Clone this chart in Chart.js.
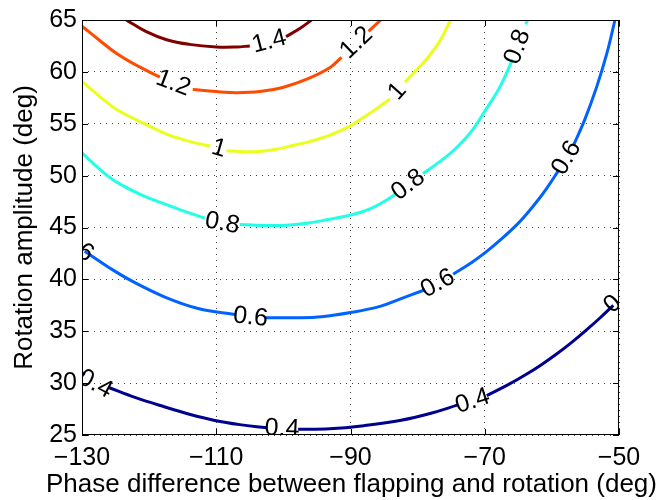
<!DOCTYPE html>
<html>
<head>
<meta charset="utf-8">
<script src="https://cdn.jsdelivr.net/npm/chart.js@4.4.1/dist/chart.umd.min.js"></script>
<style>
  html, body { margin: 0; padding: 0; background: #fff; }
  #wrap { width: 665px; height: 500px; }
</style>
</head>
<body>
<div id="wrap"><canvas id="grafico" width="665" height="500"></canvas></div>
<script>
// valores (null = abertura para o rotulo)
var levels = [0.4, 0.6, 0.8, 1.0, 1.2, 1.4];
var xTicks = [-130, -110, -90, -70, -50];
var yTicks = [25, 30, 35, 40, 45, 50, 55, 60, 65];
var tituloX = 'Phase difference between flapping and rotation (deg)';
var tituloY = 'Rotation amplitude (deg)';

var fase04 = [-130, -129.6, null, -126.1, -122, -117.65, -114, -110.2, -106.5, -102.5, null, -97.8, -93.1, -88, -82.65, -78, -74.0, null, -69.7, -66.5, -63.8, -61.5, -59.3, -57, -54.8, -52.8, -50.85];
var amp04  = [31.0, 30.8, null, 29.6, 28.6, 27.7, 27.0, 26.4, 26.0, 25.7, null, 25.55, 25.6, 25.9, 26.4, 27.1, 27.9, null, 28.8, 29.85, 30.85, 31.8, 32.8, 33.95, 35.15, 36.3, 37.5];

var fase06 = [-129.6, -126, -122.6, -117.65, -112.7, -107.0, null, -102.7, -98, -94.3, -90, -85.6, -82.65, -78.9, null, -74.7, -72, -69.7, -67.5, -65.25, -63.5, -62.0, -60.8, -59.05, null, -56.8, -55.1, -53.3, -51.8, -50.6];
var amp06  = [42.7, 41.15, 39.85, 38.3, 37.2, 36.6, null, 36.3, 36.3, 36.4, 36.8, 37.4, 38.1, 39.0, null, 40.5, 41.6, 42.7, 43.9, 45.25, 46.5, 47.7, 48.75, 50.45, null, 52.9, 55.4, 58.6, 61.8, 65];

var fase08 = [-130, -127.5, -124.9, -121, -117.4, -114.5, -111.7, null, -106.5, -103, -100.1, -96.5, -93.1, -90, -87.1, -84.5, -83.3, null, -79.2, -77, -74.7, -72.2, -70, -67.7, -65.85, null, -63.9, -63.6];
var amp08  = [52.2, 50.7, 49.4, 48.1, 47.2, 46.5, 45.9, null, 45.3, 45.2, 45.2, 45.4, 45.8, 46.2, 46.8, 47.7, 48.2, null, 50.2, 51.2, 52.4, 54.1, 56.2, 58.6, 61.2, null, 64.6, 65];

var fase10 = [-130, -127.5, -124.9, -121, -117.4, -114, -110.9, null, -108.5, -104.5, -101.5, -98.6, -96, -93.1, -90, -88.1, -86, -84.1, null, -81.9, -80, -78.2, -76.5, -75.1];
var amp10  = [59.1, 57.7, 56.4, 55.1, 54.0, 53.3, 52.85, null, 52.4, 52.3, 52.5, 52.9, 53.3, 53.9, 54.8, 55.6, 56.5, 57.4, null, 59.0, 60.3, 61.6, 63.2, 65];

var fase12 = [-130, -127.5, -124.9, -121.5, -118.4, null, -113.5, -110, -107, -103.5, -100.1, -96.5, -93.1, -91.35, null, -87.3, -85.5];
var amp12  = [64.4, 63.1, 61.8, 60.5, 59.5, null, 58.3, 58.1, 58.0, 58.1, 58.5, 59.3, 60.4, 61.4, null, 63.9, 65];

var fase14 = [-123.4, -120.5, -117.4, -114, -110, -107, -105, null, -99.6, -97.5, -95.8];
var amp14  = [65, 63.9, 63.1, 62.65, 62.4, 62.4, 62.5, null, 63.4, 64.2, 65];

// posicao dos rotulos das curvas
var rotFase04 = [-128.0, -100.2, -71.8, -49.8];
var rotAmp04  = [29.9, 25.6, 28.25, 38.3];
var rotFase06 = [-130.8, -104.9, -77.0, -57.8];
var rotAmp06  = [43.1, 36.35, 39.6, 51.7];
var rotFase08 = [-109.1, -81.4, -65.1];
var rotAmp08  = [45.4, 49.1, 62.4];
var rotFase10 = [-109.6, -83.0];
var rotAmp10  = [52.6, 58.1];
var rotFase12 = [-116.4, -89.1];
var rotAmp12  = [58.9, 62.8];
var rotFase14 = [-102.1];
var rotAmp14  = [62.9];

var fases = [fase04, fase06, fase08, fase10, fase12, fase14];
var amps = [amp04, amp06, amp08, amp10, amp12, amp14];
var rotFases = [rotFase04, rotFase06, rotFase08, rotFase10, rotFase12, rotFase14];
var rotAmps = [rotAmp04, rotAmp06, rotAmp08, rotAmp10, rotAmp12, rotAmp14];
var cores = ['#00008f', '#0062ff', '#22ffe6', '#eaff1c', '#ff4a00', '#800000'];

var fonte = 'Arial, Helvetica, sans-serif';

function pontos(xs, ys) {
    return xs.map(function (v, i) { return { x: v, y: ys[i] }; });
}

var datasets = levels.map(function (nivel, i) {
    return {
        label: String(nivel),
        data: pontos(fases[i], amps[i]),
        borderColor: cores[i],
        borderWidth: 3,
        pointRadius: 0,
        fill: false,
        tension: 0.4,
        spanGaps: false
    };
});

function formatar(v) {
    return String(Math.round(v * 10) / 10);
}

// rotulos das curvas, rodados conforme a linha
var rotulos = {
    id: 'rotulos',
    afterDatasetsDraw: function (chart) {
        var ctx = chart.ctx, a = chart.chartArea;
        var xs = chart.scales.x, ys = chart.scales.y;
        ctx.save();
        ctx.beginPath();
        ctx.rect(a.left, a.top, a.right - a.left, a.bottom - a.top);
        ctx.clip();
        ctx.font = '25px ' + fonte;
        ctx.fillStyle = '#000';
        ctx.textAlign = 'center';
        ctx.textBaseline = 'middle';
        levels.forEach(function (nivel, i) {
            var pts = [];
            fases[i].forEach(function (v, k) {
                if (v !== null && amps[i][k] !== null) {
                    pts.push({ px: xs.getPixelForValue(v), py: ys.getPixelForValue(amps[i][k]) });
                }
            });
            rotFases[i].forEach(function (rx, j) {
                var cx = xs.getPixelForValue(rx);
                var cy = ys.getPixelForValue(rotAmps[i][j]);
                var perto = pts.slice().sort(function (p, q) {
                    return Math.hypot(p.px - cx, p.py - cy) - Math.hypot(q.px - cx, q.py - cy);
                });
                var p1 = perto[0], p2 = perto[1];
                if (p1.px > p2.px) { var t = p1; p1 = p2; p2 = t; }
                var ang = Math.atan2(p2.py - p1.py, p2.px - p1.px);
                ctx.save();
                ctx.translate(cx, cy);
                ctx.rotate(ang);
                ctx.fillText(formatar(nivel), 0, 0);
                ctx.restore();
            });
        });
        ctx.restore();
    }
};

// moldura, marcas para dentro e titulo do eixo x (sem compressao de largura)
var moldura = {
    id: 'moldura',
    afterDraw: function (chart) {
        var ctx = chart.ctx, a = chart.chartArea;
        var xs = chart.scales.x, ys = chart.scales.y;
        var tam = 6;
        ctx.save();
        ctx.strokeStyle = '#000';
        ctx.lineWidth = 1;
        ctx.strokeRect(a.left + 0.5, a.top + 0.5, a.right - a.left - 1, a.bottom - a.top - 1);
        ctx.beginPath();
        xTicks.forEach(function (v) {
            var px = Math.round(xs.getPixelForValue(v)) + 0.5;
            ctx.moveTo(px, a.bottom); ctx.lineTo(px, a.bottom - tam);
            ctx.moveTo(px, a.top); ctx.lineTo(px, a.top + tam);
        });
        yTicks.forEach(function (v) {
            var py = Math.round(ys.getPixelForValue(v)) + 0.5;
            ctx.moveTo(a.left, py); ctx.lineTo(a.left + tam, py);
            ctx.moveTo(a.right, py); ctx.lineTo(a.right - tam, py);
        });
        ctx.stroke();

        ctx.fillStyle = '#000';
        ctx.font = '26px ' + fonte;
        ctx.textAlign = 'center';
        ctx.textBaseline = 'alphabetic';
        ctx.fillText(tituloX, (a.left + a.right) / 2 + 1, 492);
        ctx.restore();
    }
};

var ctx = document.getElementById('grafico').getContext('2d');

var config = {
    type: 'line',
    data: { datasets: datasets },
    options: {
        responsive: false,
        animation: false,
        layout: { padding: { left: 0, right: 46, top: 17, bottom: 0 } },
        plugins: {
            legend: { display: false },
            tooltip: { enabled: false }
        },
        scales: {
            x: {
                type: 'linear',
                position: 'bottom',
                min: -130,
                max: -50,
                afterBuildTicks: function (scale) {
                    scale.ticks = xTicks.map(function (v) { return { value: v }; });
                },
                afterFit: function (scale) { scale.height = 65; },
                grid: { color: '#444', lineWidth: 1, drawTicks: false },
                border: { display: false, dash: [1, 5] },
                ticks: {
                    color: '#000',
                    padding: 8,
                    maxRotation: 0,
                    font: { family: fonte, size: 25 },
                    callback: function (v) { return v < 0 ? '\u2212' + Math.abs(v) : String(v); }
                },
                title: { display: false }
            },
            y: {
                type: 'linear',
                min: 25,
                max: 65,
                afterBuildTicks: function (scale) {
                    scale.ticks = yTicks.map(function (v) { return { value: v }; });
                },
                afterFit: function (scale) { scale.width = 82; },
                grid: { color: '#444', lineWidth: 1, drawTicks: false },
                border: { display: false, dash: [1, 5] },
                ticks: {
                    color: '#000',
                    padding: 5,
                    font: { family: fonte, size: 25 }
                },
                title: {
                    display: true,
                    text: tituloY,
                    color: '#000',
                    padding: { top: 9, bottom: 0 },
                    font: { family: fonte, size: 26 }
                }
            }
        }
    },
    plugins: [rotulos, moldura]
};

var myChart = new Chart(ctx, config);
</script>
</body>
</html>
